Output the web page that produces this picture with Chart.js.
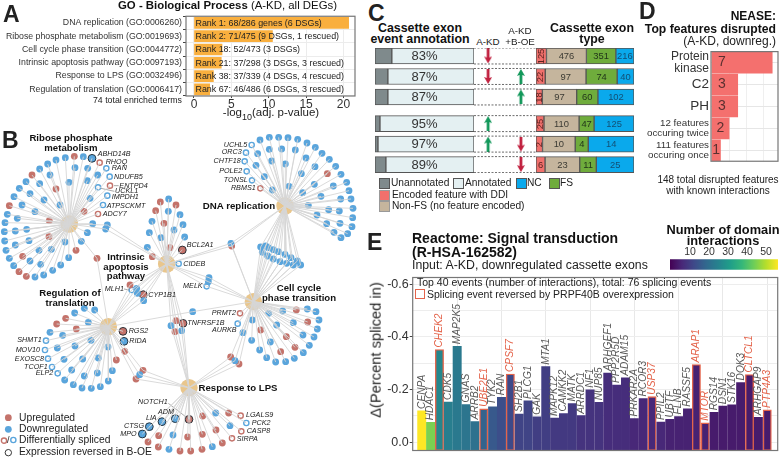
<!DOCTYPE html>
<html>
<head>
<meta charset="utf-8">
<script src="https://cdn.jsdelivr.net/npm/chart.js@4"></script>
<style>
  html, body { margin: 0; padding: 0; background: #fff; }
  body { position: relative; width: 782px; height: 459px; overflow: hidden; font-family: "Liberation Sans", Arial, sans-serif; color: #222; }
  canvas { position: absolute; }
  .t { position: absolute; white-space: nowrap; line-height: 1; transform: translateY(-50%); z-index: 5; }
  .c { transform: translate(-50%, -50%); text-align: center; }
  .r { transform: translate(-100%, -50%); text-align: right; }
  .b { font-weight: bold; color: #111; }
  .panel { font-weight: bold; font-size: 23px; color: #222; }
  .sw { position: absolute; width: 9px; height: 9px; border: 1px solid #555; box-sizing: content-box; }
</style>
</head>
<body>

<!-- panel letters -->
<div class="t panel" style="left:3px;top:14px">A</div>
<div class="t panel" style="left:2px;top:140px">B</div>
<div class="t panel" style="left:368px;top:13px">C</div>
<div class="t panel" style="left:639px;top:11px">D</div>
<div class="t panel" style="left:367px;top:242px">E</div>

<!-- A -->
<div class="t b" style="left:118px;top:6px;font-size:11.4px">GO - Biological Process <span style="font-weight:normal">(A-KD, all DEGs)</span></div>
<canvas id="chartGo" width="362" height="100" style="left:0;top:10px"></canvas>
<div class="t r" style="left:182px;top:100px;font-size:8.75px">74 total enriched terms</div>
<div class="t c" style="left:271px;top:113px;font-size:11.5px">-log<sub style="font-size:9px;line-height:0">10</sub>(adj. p-value)</div>

<!-- B -->
<canvas id="chartNet" width="370" height="334" style="left:0;top:125px"></canvas>
<div class="t c b" style="left:71px;top:143px;font-size:9.6px">Ribose phosphate<br>metabolism</div>
<div class="t c b" style="left:239px;top:206px;font-size:9.7px">DNA replication</div>
<div class="t c b" style="left:126px;top:266px;font-size:9.6px">Intrinsic<br>apoptosis<br>pathway</div>
<div class="t c b" style="left:70px;top:298px;font-size:9.6px">Regulation of<br>translation</div>
<div class="t c b" style="left:299px;top:293px;font-size:9.6px">Cell cycle<br>phase transition</div>
<div class="t c b" style="left:238px;top:388px;font-size:9.6px">Response to LPS</div>
<div class="t" style="left:19px;top:418px;font-size:10.3px">Upregulated</div>
<div class="t" style="left:19px;top:429px;font-size:10.3px">Downregulated</div>
<div class="t" style="left:19px;top:440px;font-size:10.3px">Differentially spliced</div>
<div class="t" style="left:7px;top:440px;font-size:9px">/</div>
<div class="t" style="left:19px;top:452px;font-size:10.3px">Expression reversed in B-OE</div>

<!-- C -->
<div class="t c b" style="left:420px;top:34px;font-size:12.4px;line-height:0.85">Cassette exon<br>event annotation</div>
<div class="t c" style="left:488px;top:42px;font-size:9.8px">A-KD</div>
<div class="t c" style="left:520px;top:37px;font-size:9.8px;line-height:1.1">A-KD<br>+B-OE</div>
<div class="t c b" style="left:592px;top:34px;font-size:12.4px;line-height:0.85">Cassette exon<br>type</div>
<canvas id="chartAnnot" width="99" height="125" style="left:375px;top:48px"></canvas>
<canvas id="chartArrows" width="62" height="125" style="left:474px;top:48px"></canvas>
<canvas id="chartType" width="98" height="125" style="left:536px;top:48px"></canvas>
<div class="sw" style="left:379px;top:178px;background:#7f8a8c"></div>
<div class="t" style="left:391px;top:183px;font-size:10.2px">Unannotated</div>
<div class="sw" style="left:453px;top:178px;background:#e4f0f2"></div>
<div class="t" style="left:465px;top:183px;font-size:10.2px">Annotated</div>
<div class="sw" style="left:516px;top:178px;background:#0aa9ec"></div>
<div class="t" style="left:527px;top:183px;font-size:10.2px">NC</div>
<div class="sw" style="left:549px;top:178px;background:#6fac3c"></div>
<div class="t" style="left:560px;top:183px;font-size:10.2px">FS</div>
<div class="sw" style="left:379px;top:190px;background:#f1706c;border-color:#999"></div>
<div class="t" style="left:392px;top:194.5px;font-size:10.2px">Encoded feature with DDI</div>
<div class="sw" style="left:379px;top:201px;background:#c5b59d;border-color:#999"></div>
<div class="t" style="left:392px;top:205.5px;font-size:10.2px">Non-FS (no feature encoded)</div>

<!-- D -->
<div class="t b" style="right:6px;top:16px;font-size:12px">NEASE:</div>
<div class="t b" style="right:6px;top:29px;font-size:12.2px">Top features disrupted</div>
<div class="t" style="right:6px;top:41px;font-size:12px">(A-KD, downreg.)</div>
<canvas id="chartNease" width="152" height="135" style="left:630px;top:40px"></canvas>
<div class="t c" style="left:718px;top:185px;font-size:10px;line-height:1.05">148 total disrupted features<br>with known interactions</div>

<!-- E -->
<div class="t b" style="left:412px;top:238px;font-size:14px">Reactome: Signal transduction</div>
<div class="t b" style="left:412px;top:251.5px;font-size:14px">(R-HSA-162582)</div>
<div class="t" style="left:412px;top:265px;font-size:12.3px">Input: A-KD, downregulated cassette exons</div>
<div class="t c b" style="left:723px;top:235.5px;font-size:12.8px;line-height:0.9">Number of domain<br>interactions</div>
<canvas id="chartBar" width="122" height="30" style="left:660px;top:241px"></canvas>
<canvas id="chartSignal" width="417" height="190" style="left:365px;top:269px"></canvas>
<div class="t" style="left:417px;top:282px;font-size:10.5px">Top 40 events (number of interactions), total: 76 splicing events</div>
<div style="position:absolute;left:415px;top:289px;width:8px;height:8px;border:1.3px solid #e4644b;z-index:5"></div>
<div class="t" style="left:427px;top:293.5px;font-size:10.5px">Splicing event reversed by PRPF40B overexpression</div>
<div class="t c" style="left:376px;top:350px;font-size:14.7px;transform:translate(-50%,-50%) rotate(-90deg)">Δ(Percent spliced in)</div>

<script>
// ---- A: GO terms ----
const goTerms = ['DNA replication (GO:0006260)', 'Ribose phosphate metabolism (GO:0019693)', 'Cell cycle phase transition (GO:0044772)',
  'Intrinsic apoptosis pathway (GO:0097193)', 'Response to LPS (GO:0032496)', 'Regulation of translation (GO:0006417)'];
const goValues = [20.7, 10.5, 3.75, 3.65, 2.6, 2.1];
const goNotes = ['Rank 1: 68/286 genes (6 DSGs)', 'Rank 2: 71/475 (9 DSGs, 1 rescued)', 'Rank 18: 52/473 (3 DSGs)',
  'Rank 21: 37/298 (3 DSGs, 3 rescued)', 'Rank 38: 37/339 (4 DSGs, 4 rescued)', 'Rank 67: 46/486 (6 DSGs, 3 rescued)'];
const goTicks = [0, 5, 10, 15, 20];

// ---- C: cassette exons ----
const rowPos = [0, 1, 2, 3.3, 4.3, 5.3];
const unannotated = [17, 13, 13, 5, 3, 11];
const annotated = [83, 87, 87, 95, 97, 89];
const ddi = [125, 22, 18, 25, 2, 6];
const nonFs = [476, 97, 97, 110, 10, 23];
const fs = [351, 74, 60, 47, 4, 11];
const nc = [216, 40, 102, 125, 14, 25];
// rows which have an arrow, by column
const akdDown = [0, 1];
const akdUp = [3, 4];
const boeUp = [1, 2];
const boeDown = [4, 5];

// ---- D: NEASE ----
const neaseLabels = [['Protein', 'kinase'], 'C2', 'PH', ['12 features', 'occuring twice'], ['111 features', 'occuring once']];
const neaseValues = [7, 3, 3, 2, 1];

// ---- E: signal transduction ----
const genes = ['CENPA', 'HDAC1', 'CHEK2', 'CDK5', 'MAP2K5', 'GNAS', 'ARRB2', 'UBE2E1', 'TYK2', 'RAN', 'CPSF7', 'SH2B1', 'PLCG1', 'GAK', 'MTA1',
  'MAPK12', 'CAMKK2', 'MATK', 'ARRDC1', 'NF1', 'NUP85', 'ARHGEF1', 'PPP2R5D', 'ADAM15', 'PRKAR2A', 'RCOR3', 'USP37', 'PPIL2', 'UBTF', 'FLNB',
  'RASSF5', 'ARAP1', 'MTOR', 'RGS14', 'DSN1', 'STK16', 'DOK3', 'CLTCL1', 'ARHGAP9', 'PTP4A3'];
const deltaPsi = [-0.119, -0.076, -0.352, -0.153, -0.364, -0.143, -0.079, -0.127, -0.135, -0.171, -0.259, -0.107, -0.157, -0.097, -0.287,
  -0.092, -0.109, -0.147, -0.101, -0.199, -0.152, -0.263, -0.217, -0.245, -0.090, -0.166, -0.173, -0.077, -0.087, -0.098,
  -0.127, -0.295, -0.074, -0.114, -0.137, -0.142, -0.227, -0.257, -0.095, -0.123];
const interactions = [55, 44, 26, 24, 23, 22, 21, 18, 16, 14, 13, 12, 12, 11, 11,
  10, 10, 10, 9, 9, 9, 8, 8, 8, 7, 7, 7, 7, 6, 6,
  6, 6, 6, 5, 5, 5, 5, 5, 5, 5];
const reversedGenes = ['CHEK2', 'UBE2E1', 'CPSF7', 'USP37', 'ARAP1', 'MTOR', 'CLTCL1', 'PTP4A3'];
const psiTicks = [-0.6, -0.5, -0.4, -0.3, -0.2, -0.1, 0];
const barTicks = [10, 20, 30, 40, 50];

// ---- B: network, layout units ----
const hubX = [208, 855, 500, 760, 325, 567]; // ribose, dna, apoptosis, cell cycle, translation, lps
const hubY = [297, 243, 417, 530, 605, 788];

const riboseDown = [[168,105],[196,98],[250,95],[225,128],[263,130],[293,150],[262,167],[207,172],[150,150],[119,132],[143,117],[78,170],[58,190],[42,215],
  [22,268],[15,293],[13,320],[14,348],[18,376],[28,400],[41,422],[105,456],[131,450],[158,436],[182,420],[206,398],[244,349],[262,323],[278,296],[270,220],
  [119,176],[90,206],[132,225],[66,240],[180,240],[105,260],[52,280],[46,318],[80,313],[87,347],[46,360],[117,376],[90,408],[195,351],[154,373],[122,418]];
const riboseUp = [[223,94],[96,150],[28,242],[57,440],[79,454],[228,376],[252,259],[168,192],[148,287],[147,335],[68,394]];
const riboseOpenDown = [[319,130],[329,155],[294,187],[322,212],[309,240]];
const riboseOpenUp = [[299,113],[330,182],[294,267]];
const riboseRingDown = [[276,100]];

const dnaDown = [[780,45],[808,37],[836,37],[864,38],[893,43],[921,54],[946,67],[966,85],[988,103],[1007,124],[1023,148],[1040,172],[1047,197],[1053,222],
  [1059,250],[1058,278],[1056,305],[1043,326],[1023,338],[1002,322],[773,86],[808,73],[845,72],[886,75],[918,99],[945,125],[768,121],[815,108],[856,117],
  [904,146],[793,155],[817,195],[867,184],[908,203],[943,178],[963,214],[925,241],[951,270],[986,254],[1000,183],[1022,222],[1018,258],[980,296],[1020,295]];
const dnaUp = [[982,146]];
const dnaOpenDown = [[755,60],[738,83],[734,109],[740,139],[756,166]];
const dnaOpenUp = [[781,190]];

const apoptosisDown = [[506,222],[505,259],[540,269],[456,289],[549,299],[522,315],[448,323],[483,338],[554,336],[442,367]];
const apoptosisUp = [[481,231],[528,240],[467,257],[492,295],[510,368],[457,395]];
const apoptosisOpenDown = [[536,416]];
const apoptosisRingUp = [[547,375]];

const cycleDown = [[757,585],[729,623],[755,646],[811,651],[779,675],[800,698],[827,711],[857,710],[883,700],[910,683],[928,661],[942,636],[952,612],
  [957,585],[948,560],[922,552],[848,558],[806,565],[830,600],[880,593],[909,630]];
const cycleUp = [[782,615],[889,555],[923,591],[859,635],[885,667],[842,680]];
const cycleOpenUp = [[720,565]];
const cycleOpenDown = [[713,596]];

const translationDown = [[253,550],[284,555],[224,564],[265,592],[150,622],[188,631],[273,646],[225,663],[172,669],[192,703],[248,702],[295,699],[324,666],
  [215,735],[253,753],[292,744],[337,737],[194,765],[220,779],[246,789],[274,790],[301,785],[325,768]];
const translationUp = [[197,580],[170,597],[229,612],[349,705],[374,679]];
const translationOpenDown = [[138,647],[135,675],[144,701],[156,726],[173,745]];
const translationRingUp = [[369,619]];
const translationRingDown = [[372,649]];

const lpsDown = [[647,864],[690,902],[519,930],[507,973],[637,965]];
const lpsUp = [[608,873],[686,864],[648,915],[607,928],[563,936],[476,932],[444,951],[475,966],[540,978],[572,978],[606,973],[667,954]];
const lpsOpenUp = [[722,872],[724,919],[696,940]];
const lpsOpenDown = [[739,894]];
const lpsRingUp = [[567,883]];
const lpsRingDown = [[526,881],[486,890],[448,905],[427,927]];

// nodes shared between two or three hubs
const riboseApoptosisDown = [[322,300],[317,312]];
const riboseTranslationUp = [[291,400]];
const dnaApoptosisCycleDown = [[693,355]];
const dnaApoptosisCycleUp = [[695,363]];
const dnaCycleDown = [[782,366],[797,363],[805,368],[820,374],[835,380],[855,388],[873,398],[892,408],[902,420],[880,420],[860,415],[840,410],[820,402],[803,393],[787,382]];
const apoptosisCycleDown = [[627,458],[625,470]];
const apoptosisCycleOpenDown = [[620,484]];
const apoptosisTranslationUp = [[390,480]];
const apoptosisTranslationDown = [[410,490],[412,505],[431,527]];
const apoptosisTranslationOpenDown = [[395,495]];
const apoptosisTranslationRingUp = [[430,509]];
const cycleLpsDown = [[705,707]];
const cycleLpsUp = [[692,696],[717,717]];
const cycleTranslationDown = [[578,560]];
const apoptosisLpsUp = [[528,587],[525,620]];
const apoptosisLpsDown = [[513,602],[545,617]];
const apoptosisLpsRingUp = [[549,595]];
const translationLpsUp = [[429,736],[408,762]];
const translationLpsDown = [[419,749]];

const leftGeneNames = ['ABHD14B','RHOQ','RAN','NDUFB5','ENTPD4','UCKL1','IMPDH1','ATPSCKMT','ADCY7','BCL2A1','CIDEB','CYP1B1','TNFRSF1B','RGS2','RIDA','LGALS9','PCK2','CASP8','SIRPA'];
const leftGeneX = [293,317,335,342,358,345,335,320,308,560,550,445,562,386,388,738,755,740,710];
const leftGeneY = [87,110,130,155,182,199,217,242,267,359,416,511,594,619,649,870,893,917,941];
const rightGeneNames = ['UCHL5','ORC3','CHTF18','POLE2','TONSL','RBMS1','MELK','MLH1','PRMT2','AURKB','SHMT1','MOV10','EXOSC8','TCOF1','ELP2','NOTCH1','ADM','LIA','CTSG','MPO'];
const rightGeneX = [742,725,722,727,743,767,608,372,708,710,125,120,132,143,160,503,522,470,432,410];
const rightGeneY = [59,81,109,138,165,190,484,492,563,615,646,676,702,726,745,830,860,880,902,927];
const leaderLines = [[[342,182],[356,182]], [[303,190],[343,199]], [[372,492],[388,495]], [[505,835],[567,883]]];

const legendUp = [[25,878]];
const legendDown = [[25,913]];
const legendOpenUp = [[12,947]];
const legendOpenDown = [[40,945]];
const legendRing = [[25,983]];

// which hubs each node list hangs off
const edgeGroups = [
  [[0], riboseDown, riboseUp, riboseOpenDown, riboseOpenUp, riboseRingDown],
  [[1], dnaDown, dnaUp, dnaOpenDown, dnaOpenUp],
  [[2], apoptosisDown, apoptosisUp, apoptosisOpenDown, apoptosisRingUp],
  [[3], cycleDown, cycleUp, cycleOpenUp, cycleOpenDown],
  [[4], translationDown, translationUp, translationOpenDown, translationRingUp, translationRingDown],
  [[5], lpsDown, lpsUp, lpsOpenUp, lpsOpenDown, lpsRingUp, lpsRingDown],
  [[0, 2], riboseApoptosisDown],
  [[0, 4], riboseTranslationUp],
  [[1, 2, 3], dnaApoptosisCycleDown, dnaApoptosisCycleUp],
  [[1, 3], dnaCycleDown],
  [[2, 3], apoptosisCycleDown, apoptosisCycleOpenDown],
  [[2, 4], apoptosisTranslationUp, apoptosisTranslationDown, apoptosisTranslationOpenDown, apoptosisTranslationRingUp],
  [[3, 5], cycleLpsDown, cycleLpsUp],
  [[3, 4], cycleTranslationDown],
  [[2, 5], apoptosisLpsUp, apoptosisLpsDown, apoptosisLpsRingUp],
  [[4, 5], translationLpsUp, translationLpsDown]
];

Chart.defaults.font.family = '"Liberation Sans", Arial, sans-serif';
Chart.defaults.color = '#333';
Chart.defaults.animation = false;
Chart.defaults.responsive = false;
Chart.defaults.devicePixelRatio = 1;
Chart.defaults.plugins.legend.display = false;
Chart.defaults.plugins.tooltip.enabled = false;

const RED = '#c4736b', BLUE = '#5aa5dc';

// box round the plot, ggplot style
const framePlugin = {
  id: 'frame',
  afterDraw(chart, args, opts) {
    const a = chart.chartArea, ctx = chart.ctx;
    ctx.save();
    ctx.strokeStyle = opts.color || '#777';
    ctx.lineWidth = opts.width || 1.2;
    ctx.strokeRect(a.left, a.top, a.width, a.height);
    ctx.restore();
  }
};

const fixedWidth = (w) => (scale) => { scale.width = w; };
const fixedHeight = (h) => (scale) => { scale.height = h; };

// ---- panel A ----
new Chart(document.getElementById('chartGo'), {
  type: 'bar',
  data: { labels: goTerms, datasets: [{ data: goValues, backgroundColor: '#f9af3e', barThickness: 11 }] },
  options: {
    indexAxis: 'y',
    layout: { padding: { top: 5, right: 7 } },
    scales: {
      x: {
        min: -1.07, max: 21.55,
        afterBuildTicks(scale) { scale.ticks = goTicks.map(v => ({ value: v })); },
        afterFit: fixedHeight(14),
        grid: { color: '#ececec', tickLength: 2, tickColor: '#444' },
        border: { display: false },
        ticks: { font: { size: 12 }, padding: -1, maxRotation: 0, color: '#333', autoSkip: false }
      },
      y: {
        afterFit: fixedWidth(186),
        grid: { color: '#ececec', tickLength: 3, tickColor: '#444' },
        border: { display: false },
        ticks: { font: { size: 8.75 }, padding: 1, color: '#333', autoSkip: false }
      }
    }
  },
  plugins: [framePlugin, {
    id: 'goNotes',
    afterDatasetsDraw(chart) {
      const ctx = chart.ctx, meta = chart.getDatasetMeta(0);
      ctx.save();
      ctx.font = '8.9px "Liberation Sans"';
      ctx.fillStyle = '#222';
      ctx.textBaseline = 'middle';
      meta.data.forEach((bar, i) => ctx.fillText(goNotes[i], chart.scales.x.getPixelForValue(0) + 1.5, bar.y + 0.5));
      ctx.restore();
    }
  }]
});

// ---- panel B ----
const asPoints = (list) => list.map(p => ({ x: p[0], y: p[1] }));
const nodeSet = (lists, opts) => Object.assign({
  type: 'scatter',
  data: asPoints(lists.flat()),
  pointBorderWidth: 0
}, opts);

const edgePoints = [];
edgeGroups.forEach(group => {
  group[0].forEach(h => {
    group.slice(1).forEach(list => {
      list.forEach(p => {
        edgePoints.push({ x: hubX[h], y: hubY[h] }, { x: p[0], y: p[1] }, { x: NaN, y: NaN });
      });
    });
  });
});
const leaderPoints = [];
leaderLines.forEach(l => leaderPoints.push({ x: l[0][0], y: l[0][1] }, { x: l[1][0], y: l[1][1] }, { x: NaN, y: NaN }));

const downAll = [riboseDown, dnaDown, apoptosisDown, cycleDown, translationDown, lpsDown, riboseApoptosisDown, dnaApoptosisCycleDown, dnaCycleDown,
  apoptosisCycleDown, apoptosisTranslationDown, cycleLpsDown, cycleTranslationDown, apoptosisLpsDown, translationLpsDown, legendDown];
const upAll = [riboseUp, dnaUp, apoptosisUp, cycleUp, translationUp, lpsUp, riboseTranslationUp, dnaApoptosisCycleUp, apoptosisTranslationUp,
  cycleLpsUp, apoptosisLpsUp, translationLpsUp, legendUp];
const openDownAll = [riboseOpenDown, dnaOpenDown, apoptosisOpenDown, cycleOpenDown, translationOpenDown, lpsOpenDown, apoptosisCycleOpenDown, apoptosisTranslationOpenDown, legendOpenDown];
const openUpAll = [riboseOpenUp, dnaOpenUp, cycleOpenUp, lpsOpenUp, legendOpenUp];
const ringDownAll = [riboseRingDown, translationRingDown, lpsRingDown];
const ringUpAll = [apoptosisRingUp, translationRingUp, lpsRingUp, apoptosisTranslationRingUp, apoptosisLpsRingUp];

new Chart(document.getElementById('chartNet'), {
  type: 'scatter',
  data: {
    datasets: [
      { data: edgePoints, showLine: true, borderColor: '#d6d6d6', borderWidth: 0.9, pointRadius: 0, spanGaps: false },
      { data: leaderPoints, showLine: true, borderColor: '#555', borderWidth: 0.5, pointRadius: 0, spanGaps: false },
      nodeSet(downAll, { backgroundColor: BLUE, pointRadius: 3.4 }),
      nodeSet(upAll, { backgroundColor: RED, pointRadius: 3.4 }),
      nodeSet(openDownAll, { backgroundColor: '#fff', pointRadius: 2.6, pointBorderWidth: 1.4, borderColor: BLUE }),
      nodeSet(openUpAll, { backgroundColor: '#fff', pointRadius: 2.6, pointBorderWidth: 1.4, borderColor: RED }),
      nodeSet(ringDownAll, { backgroundColor: BLUE, pointRadius: 3.9, pointBorderWidth: 0.9, borderColor: '#1c2730' }),
      nodeSet(ringUpAll, { backgroundColor: RED, pointRadius: 3.9, pointBorderWidth: 0.9, borderColor: '#1c2730' }),
      nodeSet([legendRing], { backgroundColor: '#fff', pointRadius: 3.2, pointBorderWidth: 0.9, borderColor: '#222' }),
      { type: 'scatter', data: hubX.map((x, i) => ({ x: x, y: hubY[i] })), backgroundColor: '#e9c68c', pointRadius: 8.7, pointBorderWidth: 0 }
    ]
  },
  options: {
    layout: { autoPadding: false },
    scales: {
      x: { display: false, min: 0, max: 1110 },
      y: { display: false, min: 0, max: 1002, reverse: true }
    }
  },
  plugins: [{
    id: 'geneNames',
    afterDatasetsDraw(chart) {
      const ctx = chart.ctx, xs = chart.scales.x, ys = chart.scales.y;
      ctx.save();
      ctx.font = 'italic 7.2px "Liberation Sans"';
      ctx.fillStyle = '#222';
      ctx.textBaseline = 'middle';
      ctx.textAlign = 'left';
      leftGeneNames.forEach((n, i) => ctx.fillText(n, xs.getPixelForValue(leftGeneX[i]), ys.getPixelForValue(leftGeneY[i])));
      ctx.textAlign = 'right';
      rightGeneNames.forEach((n, i) => ctx.fillText(n, xs.getPixelForValue(rightGeneX[i]), ys.getPixelForValue(rightGeneY[i])));
      ctx.restore();
    }
  }]
});

// ---- panel C ----
const rowScale = { type: 'linear', display: false, offset: false, min: -0.39, max: 5.71, reverse: true, stacked: true };
const rowData = (list) => list.map((v, i) => ({ x: v, y: rowPos[i] }));
const SEG = { barThickness: 16, borderWidth: 1, borderColor: '#555', borderSkipped: false };

new Chart(document.getElementById('chartAnnot'), {
  type: 'bar',
  data: {
    datasets: [
      Object.assign({ data: rowData(unannotated), backgroundColor: '#7f8a8c' }, SEG),
      Object.assign({ data: rowData(annotated), backgroundColor: '#e4f0f2' }, SEG)
    ]
  },
  options: {
    indexAxis: 'y',
    scales: { x: { display: false, min: 0, max: 100, stacked: true }, y: rowScale }
  },
  plugins: [{
    id: 'pct',
    afterDatasetsDraw(chart) {
      const ctx = chart.ctx, ys = chart.scales.y;
      ctx.save();
      ctx.font = '13px "Liberation Sans"';
      ctx.fillStyle = '#333';
      ctx.textAlign = 'center';
      ctx.textBaseline = 'middle';
      annotated.forEach((v, i) => ctx.fillText(v + '%', chart.width / 2, ys.getPixelForValue(rowPos[i]) + 0.5));
      ctx.restore();
    }
  }]
});

// arrows are drawn once on a small canvas, then used as a point style
function arrowImage(color, up) {
  const c = document.createElement('canvas');
  c.width = 8; c.height = 15;
  const g = c.getContext('2d');
  g.fillStyle = color;
  if (!up) { g.translate(0, 15); g.scale(1, -1); }
  g.beginPath();
  g.moveTo(4, 0); g.lineTo(8, 7); g.lineTo(5.4, 6); g.lineTo(5.4, 15); g.lineTo(2.6, 15); g.lineTo(2.6, 6); g.lineTo(0, 7);
  g.closePath();
  g.fill();
  return c;
}
const downArrow = arrowImage('#c1213f', false);
const upArrow = arrowImage('#12985a', true);
const arrowSet = (rows, column, img) => ({
  data: rows.map(r => ({ x: column, y: rowPos[r] })), pointStyle: img
});

const dashedRows = [];
rowPos.forEach(r => {
  [-0.39, 0.39].forEach(d => {
    dashedRows.push({ x: -0.43, y: r + d }, { x: 1.46, y: r + d }, { x: NaN, y: NaN });
  });
});

new Chart(document.getElementById('chartArrows'), {
  type: 'scatter',
  data: {
    datasets: [
      { data: dashedRows, showLine: true, borderColor: '#444', borderWidth: 0.8, borderDash: [2, 1.5], pointRadius: 0, spanGaps: false },
      arrowSet(akdDown, 0, downArrow),
      arrowSet(akdUp, 0, upArrow),
      arrowSet(boeUp, 1, upArrow),
      arrowSet(boeDown, 1, downArrow)
    ]
  },
  options: {
    layout: { autoPadding: false },
    scales: {
      x: { display: false, min: -0.43, max: 1.46 },
      y: { display: false, min: -0.39, max: 5.71, reverse: true }
    }
  }
});

const typeTotals = ddi.map((v, i) => v + nonFs[i] + fs[i] + nc[i]);
const typeShare = (list) => rowData(list.map((v, i) => v / typeTotals[i] * 100));
const typeSeries = [ddi, nonFs, fs, nc];
const typeColors = ['#f1706c', '#c5b59d', '#6fac3c', '#0aa9ec'];
const typeText = ['#5a2320', '#3b3a33', '#22361a', '#124f75'];

new Chart(document.getElementById('chartType'), {
  type: 'bar',
  data: {
    datasets: typeSeries.map((s, k) => Object.assign({ data: typeShare(s), backgroundColor: typeColors[k] }, SEG))
  },
  options: {
    indexAxis: 'y',
    scales: { x: { display: false, min: 0, max: 100, stacked: true }, y: rowScale }
  },
  plugins: [{
    id: 'segCounts',
    afterDatasetsDraw(chart) {
      const ctx = chart.ctx;
      ctx.textAlign = 'center';
      ctx.textBaseline = 'middle';
      ctx.font = '9.4px "Liberation Sans"';
      typeSeries.forEach((s, k) => {
        chart.getDatasetMeta(k).data.forEach((bar, i) => {
          const cx = (bar.x + bar.base) / 2;
          ctx.save();
          ctx.fillStyle = typeText[k];
          ctx.translate(cx, bar.y + 0.5);
          if (k === 0 && i !== 5) ctx.rotate(-Math.PI / 2);
          ctx.fillText(s[i], 0, 0);
          ctx.restore();
        });
      });
    }
  }]
});

// ---- panel D ----
const neaseFonts = [12, 13.5, 13.5, 9.8, 9.8];
new Chart(document.getElementById('chartNease'), {
  type: 'bar',
  data: { labels: neaseLabels, datasets: [{ data: neaseValues, backgroundColor: '#f4706e', barThickness: 21 }] },
  options: {
    indexAxis: 'y',
    layout: { padding: { top: 8, right: 4, bottom: 2 } },
    scales: {
      x: {
        display: true, min: -0.1, max: 7.67,
        afterFit: fixedHeight(0),
        afterBuildTicks(scale) { scale.ticks = [2, 4, 6].map(v => ({ value: v })); },
        ticks: { display: false },
        border: { display: false },
        grid: { color: '#efefef', drawTicks: false }
      },
      y: {
        afterFit: fixedWidth(81),
        border: { display: false },
        grid: { color: '#e6e6e6', drawTicks: false, offset: false },
        ticks: {
          padding: 2, color: '#333', autoSkip: false,
          font: (ctx) => ({ size: neaseFonts[ctx.index] || 10, lineHeight: 0.98 })
        }
      }
    }
  },
  plugins: [framePlugin, {
    id: 'neaseCounts',
    afterDatasetsDraw(chart) {
      const ctx = chart.ctx;
      ctx.save();
      ctx.font = '14px "Liberation Sans"';
      ctx.fillStyle = '#5c3030';
      ctx.textAlign = 'center';
      ctx.textBaseline = 'middle';
      chart.getDatasetMeta(0).data.forEach((bar, i) => {
        const left = chart.scales.x.getPixelForValue(0);
        ctx.fillText(neaseValues[i], Math.min(left + 10, (left + bar.x) / 2), bar.y);
      });
      ctx.restore();
    }
  }]
});

// ---- panel E ----
const viridisStops = ['#440154', '#482878', '#3e4989', '#31688e', '#26828e', '#1f9e89', '#35b779', '#6ece58', '#b5de2b', '#fde725'];
function hexToRgb(h) { return [1, 3, 5].map(i => parseInt(h.substr(i, 2), 16)); }
function viridis(n) {
  const t = Math.max(0, Math.min(1, (n - 1) / 54)) * (viridisStops.length - 1);
  const i = Math.min(Math.floor(t), viridisStops.length - 2);
  const a = hexToRgb(viridisStops[i]), b = hexToRgb(viridisStops[i + 1]), f = t - i;
  return 'rgb(' + a.map((v, k) => Math.round(v + (b[k] - v) * f)).join(',') + ')';
}

const isReversed = (i) => reversedGenes.indexOf(genes[i]) >= 0;

new Chart(document.getElementById('chartSignal'), {
  type: 'bar',
  data: {
    datasets: [{
      data: deltaPsi.map((v, i) => ({ x: i, y: v })),
      base: 0.031,
      barThickness: 8.3,
      backgroundColor: interactions.map(viridis),
      borderColor: (ctx) => isReversed(ctx.dataIndex) ? '#e4644b' : 'rgba(0,0,0,0)',
      borderWidth: (ctx) => isReversed(ctx.dataIndex) ? 1.4 : 0,
      borderSkipped: false
    }]
  },
  options: {
    layout: { padding: { top: 5, right: 4.3, bottom: 4.5 } },
    scales: {
      x: {
        type: 'linear', offset: false, min: -1.02, max: 40.18,
        afterBuildTicks(scale) { scale.ticks = [4, 9, 14, 19, 24, 29, 34, 39].map(v => ({ value: v })); },
        afterFit: fixedHeight(0),
        ticks: { display: false },
        border: { display: false },
        grid: { color: '#e8e8e8', drawTicks: false, offset: false }
      },
      y: {
        reverse: true, min: -0.625, max: 0.031,
        afterFit: fixedWidth(47.7),
        afterBuildTicks(scale) { scale.ticks = psiTicks.map(v => ({ value: v })); },
        border: { display: false },
        grid: {
          color: '#ededed', tickLength: 3,
          tickColor: (ctx) => Math.round(ctx.tick.value * 10) % 2 === 0 ? '#444' : 'rgba(0,0,0,0)'
        },
        ticks: {
          font: { size: 12.5 }, padding: 1, color: '#333', autoSkip: false,
          callback: (v) => Math.round(v * 10) % 2 === 0 ? v.toFixed(1).replace('-0.0', '0.0') : ''
        }
      }
    }
  },
  plugins: [framePlugin, {
    id: 'geneLabels',
    afterDatasetsDraw(chart) {
      const ctx = chart.ctx;
      ctx.font = 'italic 10.2px "Liberation Sans"';
      ctx.textAlign = 'left';
      ctx.textBaseline = 'middle';
      chart.getDatasetMeta(0).data.forEach((bar, i) => {
        ctx.save();
        ctx.fillStyle = isReversed(i) ? '#e4644b' : '#5a5a5a';
        ctx.translate(bar.x, bar.y - 2);
        ctx.rotate(-Math.PI / 2);
        ctx.fillText(genes[i], 0, 0);
        ctx.restore();
      });
    }
  }]
});

// colour key for the number of interactions
new Chart(document.getElementById('chartBar'), {
  type: 'bar',
  data: {
    labels: ['key'],
    datasets: [{
      data: [[-0.5, 56.3]],
      barThickness: 10,
      backgroundColor(ctx) {
        const a = ctx.chart.chartArea;
        if (!a) return viridisStops[0];
        const g = ctx.chart.ctx.createLinearGradient(a.left, 0, a.right, 0);
        viridisStops.forEach((c, i) => g.addColorStop(i / (viridisStops.length - 1), c));
        return g;
      }
    }]
  },
  options: {
    indexAxis: 'y',
    layout: { padding: { left: 10, right: 4 } },
    scales: {
      x: {
        position: 'top', min: -0.5, max: 56.3,
        afterBuildTicks(scale) { scale.ticks = barTicks.map(v => ({ value: v })); },
        afterFit: fixedHeight(17),
        grid: { display: false, drawTicks: false },
        border: { display: false },
        ticks: { font: { size: 10.5 }, padding: 0, maxRotation: 0, color: '#333', autoSkip: false }
      },
      y: { display: false }
    }
  }
});
</script>
</body>
</html>
